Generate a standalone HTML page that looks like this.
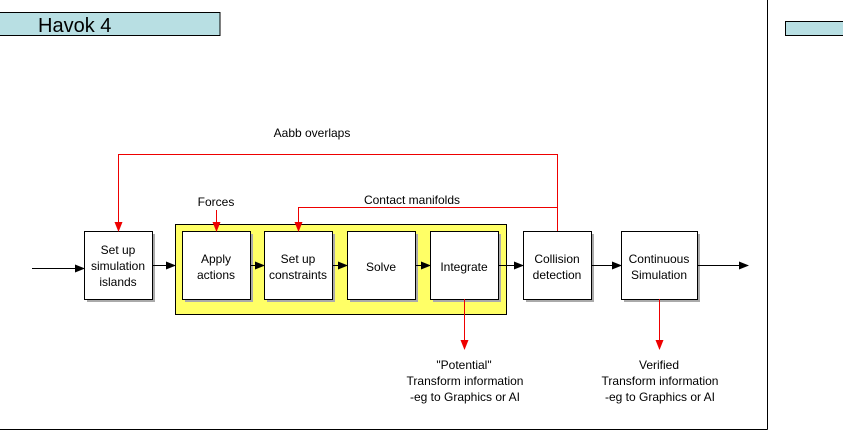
<!DOCTYPE html>
<html><head><style>
body{margin:0;width:843px;height:430px;background:#fff;overflow:hidden;font-family:"Liberation Sans",sans-serif}
</style></head><body>
<svg width="843" height="430" xmlns="http://www.w3.org/2000/svg" font-family="Liberation Sans, sans-serif" font-size="12">
<defs>
<marker id="b" markerWidth="10" markerHeight="8" refX="9" refY="4" orient="auto" markerUnits="userSpaceOnUse"><path d="M0,0 L10,4 L0,8z" fill="#000"/></marker>
<marker id="r" markerWidth="10" markerHeight="8" refX="9" refY="4" orient="auto" markerUnits="userSpaceOnUse"><path d="M0,0 L10,4 L0,8z" fill="#e00"/></marker>
</defs>
<line x1="767.5" y1="0" x2="767.5" y2="429.5" stroke="#000"/>
<line x1="0" y1="429.5" x2="767.5" y2="429.5" stroke="#000"/>
<rect x="-1" y="12.5" width="221" height="23" fill="#b8dfe3" stroke="#000"/>
<text x="38" y="32" font-size="20">Havok 4</text>
<rect x="785.5" y="21.5" width="70" height="14" fill="#b8dfe3" stroke="#000"/>
<rect x="175.5" y="224.5" width="331" height="90" fill="#ffff66" stroke="#000"/>
<g fill="#aaa">
<rect x="87" y="234" width="68" height="68"/><rect x="185" y="234" width="68" height="68"/><rect x="267" y="234" width="68" height="68"/><rect x="350" y="234" width="68" height="68"/><rect x="433" y="234" width="68" height="68"/><rect x="526" y="234" width="68" height="68"/><rect x="624" y="234" width="76" height="68"/>
</g>
<g fill="#fff" stroke="#000">
<rect x="84.5" y="231.5" width="68" height="68"/><rect x="182.5" y="231.5" width="68" height="68"/><rect x="264.5" y="231.5" width="68" height="68"/><rect x="347.5" y="231.5" width="68" height="68"/><rect x="430.5" y="231.5" width="68" height="68"/><rect x="523.5" y="231.5" width="68" height="68"/><rect x="621.5" y="231.5" width="76" height="68"/>
</g>
<g stroke="#000" marker-end="url(#b)">
<line x1="32" y1="268.5" x2="84" y2="268.5"/>
<line x1="152" y1="265.5" x2="175" y2="265.5"/>
<line x1="250" y1="265.5" x2="264" y2="265.5"/>
<line x1="332" y1="265.5" x2="347" y2="265.5"/>
<line x1="415" y1="265.5" x2="430" y2="265.5"/>
<line x1="498" y1="265.5" x2="523" y2="265.5"/>
<line x1="591" y1="265.5" x2="621" y2="265.5"/>
<line x1="697" y1="265.5" x2="748" y2="265.5"/>
</g>
<g stroke="#e00" fill="none">
<polyline points="557.5,231 557.5,154.5 118.5,154.5 118.5,231" marker-end="url(#r)"/>
<polyline points="557.5,207.5 298.5,207.5 298.5,231" marker-end="url(#r)"/>
<line x1="216.5" y1="210" x2="216.5" y2="231" marker-end="url(#r)"/>
<line x1="464.5" y1="299" x2="464.5" y2="349" marker-end="url(#r)"/>
<line x1="659.5" y1="299" x2="659.5" y2="349" marker-end="url(#r)"/>
</g>
<g text-anchor="middle">
<text x="312" y="137">Aabb overlaps</text>
<text x="412" y="204">Contact manifolds</text>
<text x="216" y="206">Forces</text>
<text x="118" y="254">Set up</text><text x="118" y="270">simulation</text><text x="118" y="286">islands</text>
<text x="216" y="263">Apply</text><text x="216" y="279">actions</text>
<text x="298" y="263">Set up</text><text x="298" y="279">constraints</text>
<text x="381" y="271">Solve</text>
<text x="464" y="271">Integrate</text>
<text x="557" y="263">Collision</text><text x="557" y="279">detection</text>
<text x="659" y="263">Continuous</text><text x="659" y="279">Simulation</text>
<text x="464" y="369">"Potential"</text><text x="465" y="385">Transform information</text><text x="465" y="401">-eg to Graphics or AI</text>
<text x="659" y="369">Verified</text><text x="660" y="385">Transform information</text><text x="660" y="401">-eg to Graphics or AI</text>
</g>
</svg>
</body></html>
